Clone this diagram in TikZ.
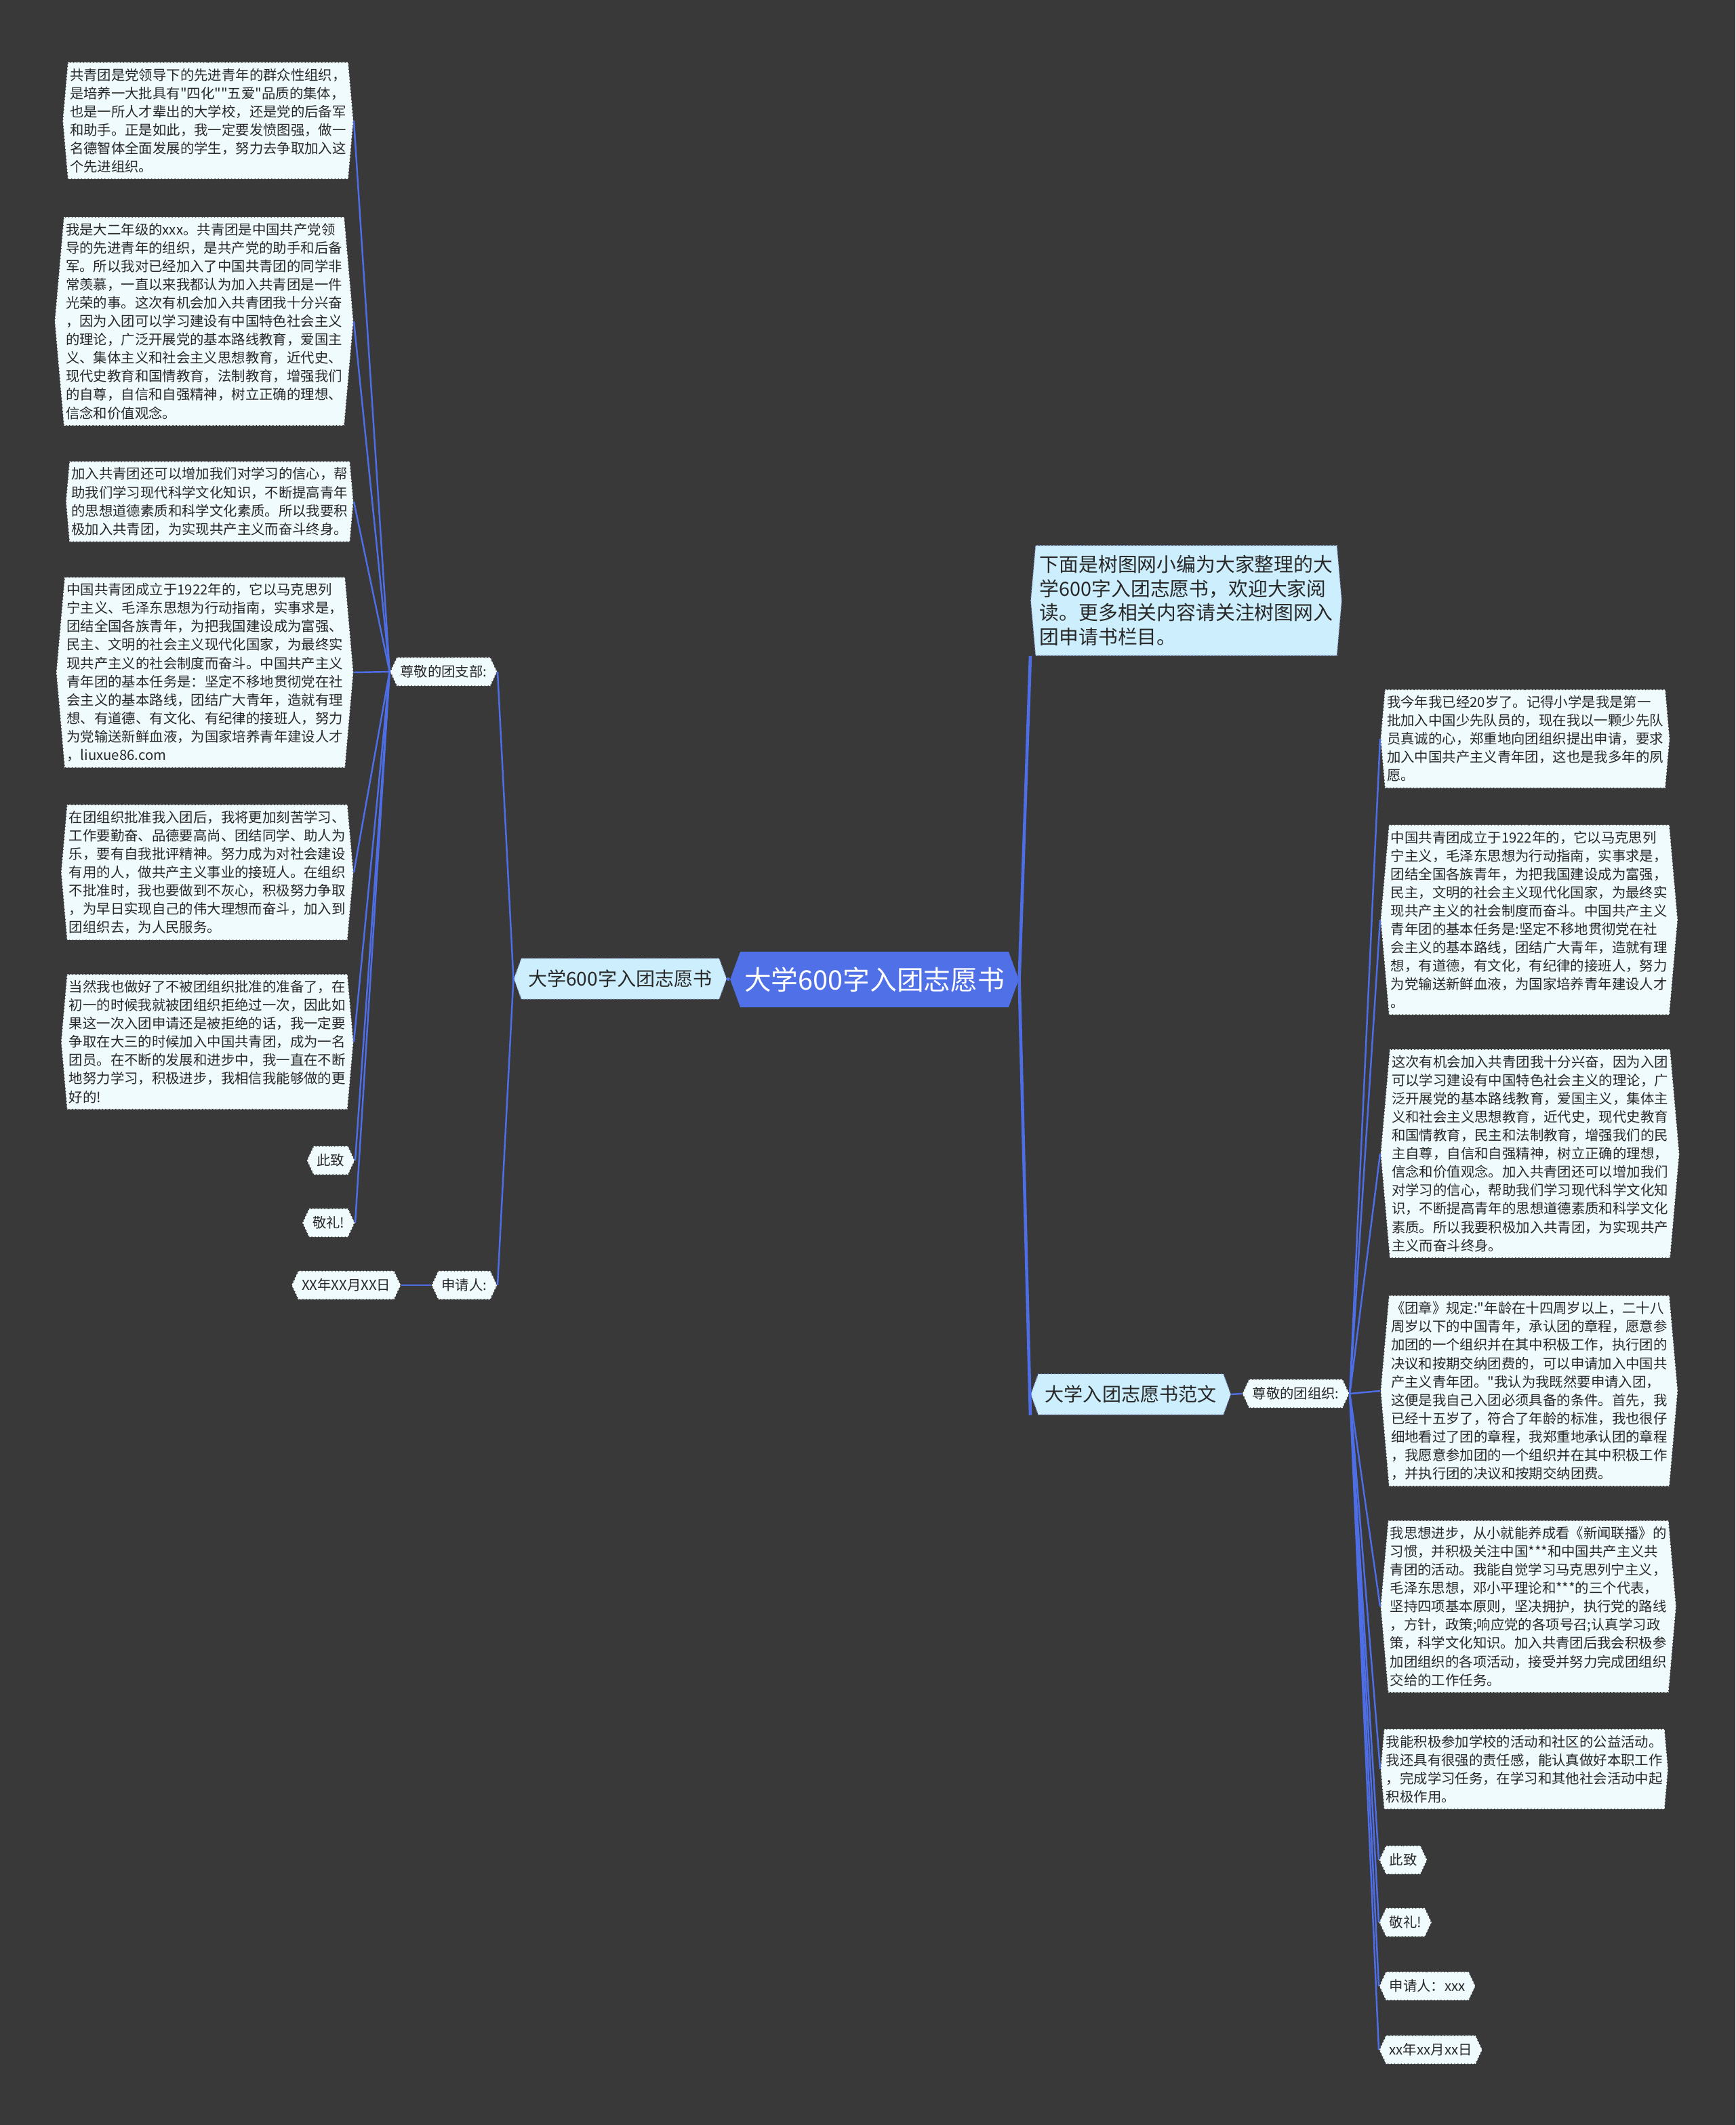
\documentclass[tikz,border=0pt]{standalone}
\usepackage{fontspec}
\setmainfont{Noto Sans CJK SC}[Ligatures=TeXOff]
\usetikzlibrary{shapes.symbols, positioning}

\definecolor{bgdark}{RGB}{57,57,57}
\definecolor{linkblue}{RGB}{77,110,230}
\definecolor{rootblue}{RGB}{80,112,232}
\definecolor{topicfill}{RGB}{205,239,253}
\definecolor{paper}{RGB}{240,251,254}
\definecolor{ink}{RGB}{40,40,40}

\tikzset{
    hexa/.style={signal, signal to=east and west},
    root/.style={hexa, signal pointer angle=140, fill=rootblue, text=white,
        font=\fontsize{11.3}{13}\selectfont, inner xsep=0.6mm, minimum height=8.2mm},
    topic/.style={hexa, signal pointer angle=140, fill=topicfill, draw=linkblue!70,
        densely dotted, text=ink, font=\fontsize{8}{10}\selectfont, inner xsep=1mm, minimum height=6mm},
    note/.style={hexa, signal pointer angle=170, fill=topicfill, draw=linkblue!60, densely dotted,
        text=ink, align=left, font=\fontsize{8.2}{10.2}\selectfont, inner xsep=0.6mm, inner ysep=1.4mm},
    block/.style={hexa, signal pointer angle=170, fill=paper, draw=black!80, densely dotted,
        line width=0.4pt, text=ink, align=left, font=\fontsize{5.8}{7.7}\selectfont,
        inner xsep=0.3mm, inner ysep=0.9mm},
    tag/.style={hexa, signal pointer angle=130, fill=paper, draw=black!80, densely dotted,
        text=ink, font=\fontsize{5.8}{7}\selectfont, inner xsep=0.5mm, minimum height=4mm},
    link/.style={draw=linkblue, line width=0.7pt},
    mainlink/.style={draw=linkblue, line width=1.3pt},
}

\begin{document}
\begin{tikzpicture}[x=1mm, y=-1mm]
    % background
    \fill[bgdark] (0,0) rectangle (256,313.5);
    \useasboundingbox (0,0) rectangle (256,313.5);

    % centre and main branches
    \node[root] (root) at (129,144.5) {大学600字入团志愿书};
    \node[topic] (leftTopic) at (91.5,144.4) {大学600字入团志愿书};
    \node[note, anchor=west] (intro) at (152,88.6) {下面是树图网小编为大家整理的大\\学600字入团志愿书，欢迎大家阅\\读。更多相关内容请关注树图网入\\团申请书栏目。};
    \node[topic, anchor=west] (rightTopic) at (152,205.7) {大学入团志愿书范文};

    % left side
    \node[tag, anchor=east] (dearL) at (73.4,99.1) {尊敬的团支部:};
    \node[tag, anchor=east] (applyL) at (73.4,189.6) {申请人:};
    \node[tag, left=4.4mm of applyL] (dateL) {XX年XX月XX日};
    \node[tag, anchor=east] (zhiL) at (52.4,171.2) {此致};
    \node[tag, anchor=east] (jingL) at (52.4,180.4) {敬礼!};

    \node[block, anchor=east] (b1) at (52.2,17.8) {共青团是党领导下的先进青年的群众性组织，\\是培养一大批具有"四化""五爱"品质的集体，\\也是一所人才辈出的大学校，还是党的后备军\\和助手。正是如此，我一定要发愤图强，做一\\名德智体全面发展的学生，努力去争取加入这\\个先进组织。};
    \node[block, anchor=east] (b2) at (52.2,47.4) {我是大二年级的xxx。共青团是中国共产党领\\导的先进青年的组织，是共产党的助手和后备\\军。所以我对已经加入了中国共青团的同学非\\常羡慕，一直以来我都认为加入共青团是一件\\光荣的事。这次有机会加入共青团我十分兴奋\\，因为入团可以学习建设有中国特色社会主义\\的理论，广泛开展党的基本路线教育，爱国主\\义、集体主义和社会主义思想教育，近代史、\\现代史教育和国情教育，法制教育，增强我们\\的自尊，自信和自强精神，树立正确的理想、\\信念和价值观念。};
    \node[block, anchor=east] (b3) at (52.2,74.0) {加入共青团还可以增加我们对学习的信心，帮\\助我们学习现代科学文化知识，不断提高青年\\的思想道德素质和科学文化素质。所以我要积\\极加入共青团，为实现共产主义而奋斗终身。};
    \node[block, anchor=east] (b4) at (52.2,99.2) {中国共青团成立于1922年的，它以马克思列\\宁主义、毛泽东思想为行动指南，实事求是，\\团结全国各族青年，为把我国建设成为富强、\\民主、文明的社会主义现代化国家，为最终实\\现共产主义的社会制度而奋斗。中国共产主义\\青年团的基本任务是：坚定不移地贯彻党在社\\会主义的基本路线，团结广大青年，造就有理\\想、有道德、有文化、有纪律的接班人，努力\\为党输送新鲜血液，为国家培养青年建设人才\\，liuxue86.com};
    \node[block, anchor=east] (b5) at (52.2,128.7) {在团组织批准我入团后，我将更加刻苦学习、\\工作要勤奋、品德要高尚、团结同学、助人为\\乐，要有自我批评精神。努力成为对社会建设\\有用的人，做共产主义事业的接班人。在组织\\不批准时，我也要做到不灰心，积极努力争取\\，为早日实现自己的伟大理想而奋斗，加入到\\团组织去，为人民服务。};
    \node[block, anchor=east] (b6) at (52.2,153.7) {当然我也做好了不被团组织批准的准备了，在\\初一的时候我就被团组织拒绝过一次，因此如\\果这一次入团申请还是被拒绝的话，我一定要\\争取在大三的时候加入中国共青团，成为一名\\团员。在不断的发展和进步中，我一直在不断\\地努力学习，积极进步，我相信我能够做的更\\好的!};

    % right side
    \node[tag, anchor=west] (dearR) at (183.2,205.6) {尊敬的团组织:};
    \node[block, anchor=west] (r1) at (203.6,109.0) {我今年我已经20岁了。记得小学是我是第一\\批加入中国少先队员的，现在我以一颗少先队\\员真诚的心，郑重地向团组织提出申请，要求\\加入中国共产主义青年团，这也是我多年的夙\\愿。};
    \node[block, anchor=west] (r2) at (203.6,135.7) {中国共青团成立于1922年的，它以马克思列\\宁主义，毛泽东思想为行动指南，实事求是，\\团结全国各族青年，为把我国建设成为富强，\\民主，文明的社会主义现代化国家，为最终实\\现共产主义的社会制度而奋斗。中国共产主义\\青年团的基本任务是:坚定不移地贯彻党在社\\会主义的基本路线，团结广大青年，造就有理\\想，有道德，有文化，有纪律的接班人，努力\\为党输送新鲜血液，为国家培养青年建设人才\\。};
    \node[block, anchor=west] (r3) at (203.6,170.2) {这次有机会加入共青团我十分兴奋，因为入团\\可以学习建设有中国特色社会主义的理论，广\\泛开展党的基本路线教育，爱国主义，集体主\\义和社会主义思想教育，近代史，现代史教育\\和国情教育，民主和法制教育，增强我们的民\\主自尊，自信和自强精神，树立正确的理想，\\信念和价值观念。加入共青团还可以增加我们\\对学习的信心，帮助我们学习现代科学文化知\\识，不断提高青年的思想道德素质和科学文化\\素质。所以我要积极加入共青团，为实现共产\\主义而奋斗终身。};
    \node[block, anchor=west] (r4) at (203.6,205.2) {《团章》规定:"年龄在十四周岁以上，二十八\\周岁以下的中国青年，承认团的章程，愿意参\\加团的一个组织并在其中积极工作，执行团的\\决议和按期交纳团费的，可以申请加入中国共\\产主义青年团。"我认为我既然要申请入团，\\这便是我自己入团必须具备的条件。首先，我\\已经十五岁了，符合了年龄的标准，我也很仔\\细地看过了团的章程，我郑重地承认团的章程\\，我愿意参加团的一个组织并在其中积极工作\\，并执行团的决议和按期交纳团费。};
    \node[block, anchor=west] (r5) at (203.6,237.0) {我思想进步，从小就能养成看《新闻联播》的\\习惯，并积极关注中国***和中国共产主义共\\青团的活动。我能自觉学习马克思列宁主义，\\毛泽东思想，邓小平理论和***的三个代表，\\坚持四项基本原则，坚决拥护，执行党的路线\\，方针，政策;响应党的各项号召;认真学习政\\策，科学文化知识。加入共青团后我会积极参\\加团组织的各项活动，接受并努力完成团组织\\交给的工作任务。};
    \node[block, anchor=west] (r6) at (203.6,261.0) {我能积极参加学校的活动和社区的公益活动。\\我还具有很强的责任感，能认真做好本职工作\\，完成学习任务，在学习和其他社会活动中起\\积极作用。};
    \node[tag, anchor=west] (zhiR) at (203.4,274.4) {此致};
    \node[tag, anchor=west] (jingR) at (203.4,283.6) {敬礼!};
    \node[tag, anchor=west] (applyR) at (203.4,293.0) {申请人：xxx};
    \node[tag, anchor=west] (dateR) at (203.4,302.4) {xx年xx月xx日};

    % connectors
    \draw[mainlink] (root.west) -- (leftTopic.east);
    \draw[mainlink] (root.east) -- (intro.west |- intro.south);
    \draw[mainlink] (root.east) -- (rightTopic.west |- rightTopic.south);
    \draw[link] (leftTopic.west) -- (dearL.east);
    \draw[link] (leftTopic.west) -- (applyL.east);
    \draw[link] (applyL.west) -- (dateL.east);
    \foreach \n in {b1,b2,b3,b4,b5,b6,zhiL,jingL}
        \draw[link] (dearL.west) -- (\n.east);
    \draw[link] (rightTopic.east) -- (dearR.west);
    \foreach \n in {r1,r2,r3,r4,r5,r6,zhiR,jingR,applyR,dateR}
        \draw[link] (dearR.east) -- (\n.west);
\end{tikzpicture}
\end{document}
